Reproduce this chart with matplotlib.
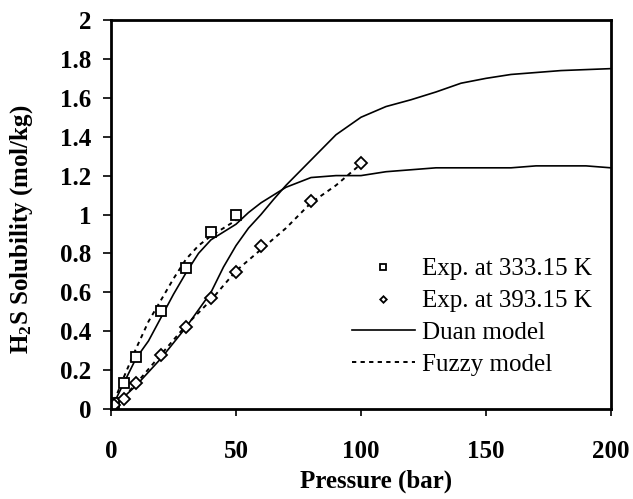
import numpy as np
import matplotlib
matplotlib.use("Agg")
import matplotlib.pyplot as plt

plt.rcParams['font.family'] = ['Liberation Serif', 'DejaVu Serif']
plt.rcParams['mathtext.fontset'] = 'custom'
plt.rcParams['mathtext.rm'] = 'Liberation Serif'
plt.rcParams['mathtext.bf'] = 'Liberation Serif:bold'

# experimental data
p_333 = [1, 5, 10, 20, 30, 40, 50]
s_333 = [0.03, 0.135, 0.265, 0.505, 0.725, 0.91, 0.995]
p_393 = [1, 5, 10, 20, 30, 40, 50, 60, 80, 100]
s_393 = [0.02, 0.05, 0.133, 0.278, 0.422, 0.569, 0.706, 0.838, 1.07, 1.265]

# Duan model
pd_333 = [0, 5, 10, 15, 20, 25, 30, 35, 40, 45, 50, 55, 60, 70, 80, 90, 100,
          110, 120, 130, 150, 160, 170, 180, 190, 200]
sd_333 = [0, 0.13, 0.26, 0.35, 0.47, 0.59, 0.70, 0.80, 0.87, 0.91, 0.95, 1.01,
          1.06, 1.14, 1.19, 1.20, 1.20, 1.22, 1.23, 1.24, 1.24, 1.24, 1.25,
          1.25, 1.25, 1.24]
pd_393 = [0, 5, 10, 15, 20, 25, 30, 35, 40, 45, 50, 55, 60, 65, 70, 80, 90,
          100, 110, 120, 130, 140, 150, 160, 170, 180, 190, 200]
sd_393 = [0, 0.06, 0.12, 0.19, 0.26, 0.34, 0.42, 0.51, 0.60, 0.73, 0.84, 0.93,
          1.00, 1.077, 1.15, 1.28, 1.41, 1.50, 1.555, 1.59, 1.63, 1.675, 1.70,
          1.72, 1.73, 1.74, 1.745, 1.75]

# Fuzzy model
pf_333 = [0, 5, 10, 15, 20, 25, 30, 35, 40, 45, 50]
sf_333 = [0, 0.16, 0.31, 0.45, 0.56, 0.67, 0.77, 0.84, 0.89, 0.93, 0.97]
pf_393 = [0, 5, 10, 20, 30, 40, 50, 60, 70, 80, 90, 100]
sf_393 = [0, 0.06, 0.13, 0.28, 0.43, 0.56, 0.71, 0.82, 0.93, 1.06, 1.15, 1.26]

fig = plt.figure(figsize=(6.33, 4.99), dpi=100)
ax = fig.add_axes([111/633, 90/499, 500/633, 389/499])

dot = (0, (2.2, 2.2))
ax.plot(pd_333, sd_333, 'k-', lw=1.2, label='Duan model')
ax.plot(pd_393, sd_393, 'k-', lw=1.2)
ax.plot(pf_333, sf_333, color='k', ls=dot, lw=1.4, label='Fuzzy model')
ax.plot(pf_393, sf_393, color='k', ls=dot, lw=1.4)
ax.plot(p_333, s_333, 's', ms=7, mfc='white', mec='k', mew=1.3,
        label='Exp. at 333.15 K')
ax.plot(p_393, s_393, 'D', ms=6, mfc='white', mec='k', mew=1.3,
        label='Exp. at 393.15 K')

ax.set_xlim(0, 200)
ax.set_ylim(0, 2)
ax.set_xticks([0, 50, 100, 150, 200])
ax.set_yticks(np.arange(0, 2.01, 0.2))
ax.set_yticklabels(['0', '0.2', '0.4', '0.6', '0.8', '1', '1.2', '1.4',
                    '1.6', '1.8', '2'])
for lab in ax.get_xticklabels() + ax.get_yticklabels():
    lab.set_fontweight('bold')
    lab.set_fontsize(18)
ax.tick_params(axis='y', direction='out', length=6, width=1.2, pad=8)
ax.tick_params(axis='x', direction='out', length=5, width=1.2, pad=17)
for s in ax.spines.values():
    s.set_linewidth(2)

ax.set_xlabel('Pressure (bar)', fontsize=18, fontweight='bold')
ax.xaxis.set_label_coords(0.531, -0.185)
ax.xaxis.label.set_va('center')
ax.set_ylabel(r'$\mathbf{H_2S}$ Solubility (mol/kg)', fontsize=18,
              fontweight='bold')
ax.yaxis.set_label_coords(-0.178, 0.463)
ax.yaxis.label.set_va('center')

h, l = ax.get_legend_handles_labels()
order = [2, 3, 0, 1]
ax.legend([h[i] for i in order], [l[i] for i in order], loc='upper left',
          bbox_to_anchor=(352/633, 1 - 258/499), bbox_transform=fig.transFigure,
          frameon=False, fontsize=18, markerscale=0.55, handlelength=2.5,
          handletextpad=0.3, labelspacing=0.37, borderpad=0,
          borderaxespad=0)

fig.savefig('out.png', dpi=100)
